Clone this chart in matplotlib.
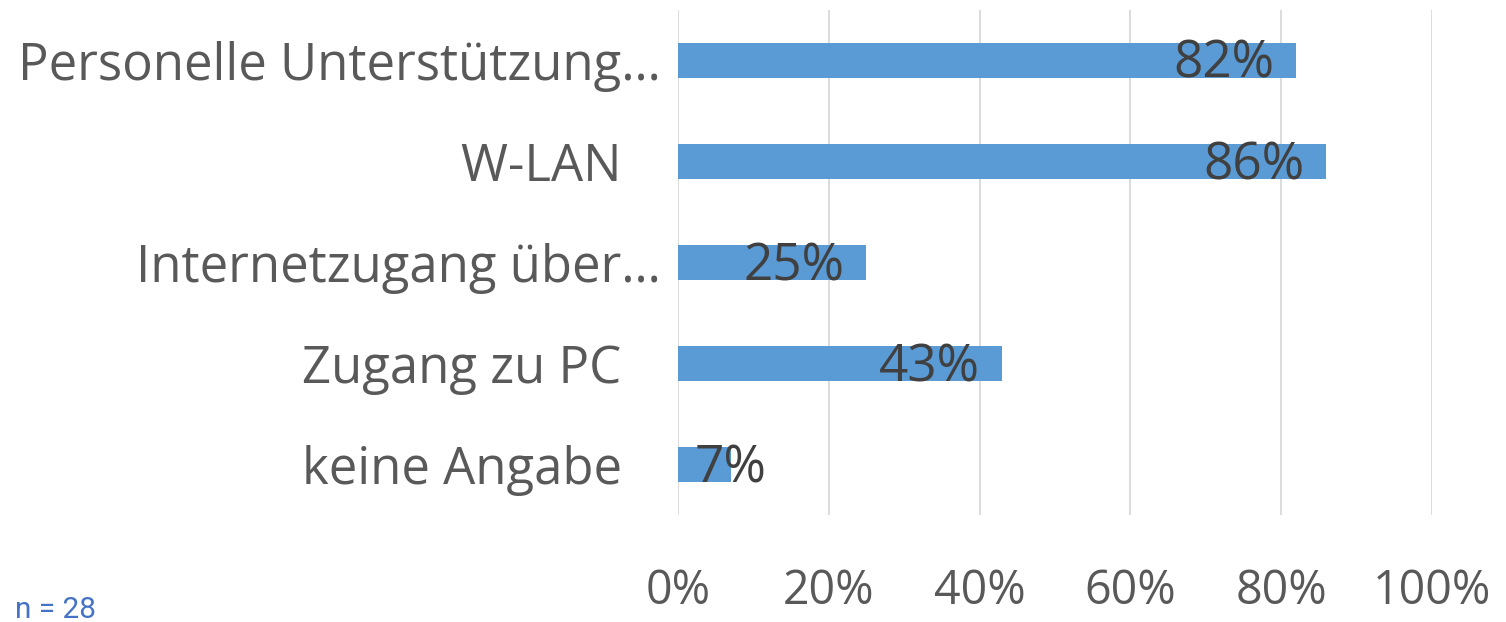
import matplotlib
matplotlib.use("Agg")
import matplotlib.pyplot as plt

categories = ["Personelle Unterstützung…", "W-LAN   ", "Internetzugang über…", "Zugang zu PC   ", "keine Angabe   "]
values = [82, 86, 25, 43, 7]
x_ticks = [0, 20, 40, 60, 80, 100]
x_tick_labels = ["0%", "20%", "40%", "60%", "80%", "100%"]
note = "n = 28"

plt.rcParams['font.family'] = ['Open Sans', 'DejaVu Sans']

fig = plt.figure(figsize=(15.06, 6.22), dpi=100)
ax = fig.add_axes([0.4502, 0.172, 0.5006, 0.812])

ypos = list(range(len(categories)))
ax.barh(ypos, values, height=0.34, color="#5B9BD5", zorder=3)
ax.set_ylim(len(categories) - 0.5, -0.5)
ax.set_xlim(0, 100)
ax.set_xticks(x_ticks)
ax.set_xticklabels(x_tick_labels)
ax.set_yticks(ypos)
ax.set_yticklabels(categories)
ax.tick_params(axis='x', length=0, pad=38, labelsize=33.5, labelcolor="#595959")
ax.tick_params(axis='y', length=0, pad=12, labelsize=36.6, labelcolor="#595959")
ax.grid(axis='x', color="#D9D9D9", linewidth=1.3, zorder=0)
for s in ax.spines.values():
    s.set_visible(False)

for y, v in zip(ypos, values):
    if v >= 15:
        ax.text(v - 2.9, y + 0.04, f"{v}%", ha='right', va='center', fontsize=37, color="#404040", zorder=4)
    else:
        ax.text(v, y + 0.04, f"{v}%", ha='center', va='center', fontsize=37, color="#404040", zorder=4)

fig.text(0.010, 0.006, note, fontsize=21.5, color="#4472C4", ha='left', va='baseline',
         family=['Roboto', 'DejaVu Sans'])

fig.savefig("out.png", dpi=100)
